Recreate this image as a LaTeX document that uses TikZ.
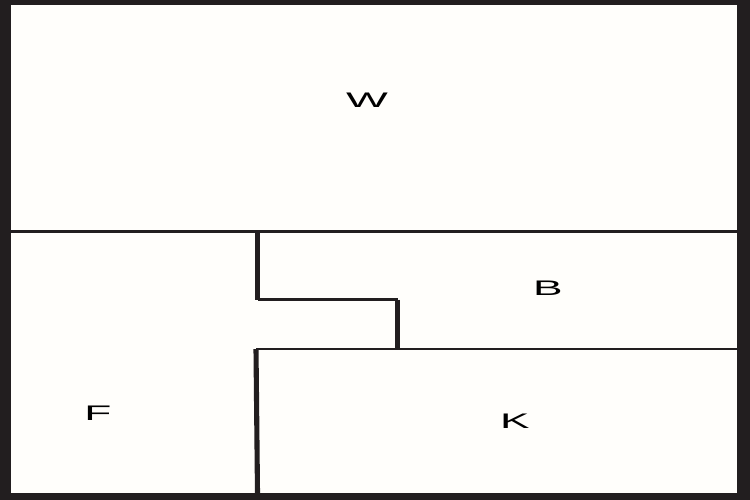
\documentclass[tikz,border=0pt]{standalone}
\usepackage{fontspec}
\setmainfont{Liberation Sans}
\definecolor{FrameBlack}{HTML}{221E1F}
\definecolor{PaperWhite}{HTML}{FFFEFB}
\tikzset{
    wall thin/.style={draw=FrameBlack, line width=1.6pt},
    wall thick/.style={draw=FrameBlack, line width=2.9pt},
    room label/.style={font=\fontsize{12}{14}\selectfont, xscale=2.1, text=black}
}

\begin{document}
\begin{tikzpicture}[x=0.2mm, y=-0.2mm]

    \useasboundingbox (0,0) rectangle (750,500);
    \fill[FrameBlack] (0,0) rectangle (750,500);

    \coordinate (TL) at (11,5);
    \coordinate (BR) at (737,493);
    \fill[PaperWhite] (TL) rectangle (BR);

    % Raumgrenzen
    \coordinate (WL) at (11,231.5);
    \coordinate (WR) at (737,231.5);
    \coordinate (N1) at (257.5,231.5);
    \coordinate (N2) at (257.5,299.5);
    \coordinate (N3) at (397.5,299.5);
    \coordinate (N4) at (397.5,349);
    \coordinate (KL) at (256,349);
    \coordinate (KR) at (737,349);
    \coordinate (KB) at (257.5,493);

    \draw[wall thin] (WL) -- (WR);
    \draw[wall thick] (N1) -- (N2);
    \draw[wall thin] (N2) -- (N3);
    \draw[wall thick] (N3) -- (N4);
    \draw[wall thin] (KL) -- (KR);
    \draw[wall thick] (KL) -- (KB);

    % Beschriftungen
    \node[room label] (W) at (367,100) {W};
    \node[room label] (B) at (548,288) {B};
    \node[room label] (F) at (98,413) {F};
    \node[room label] (K) at (515,421) {K};

\end{tikzpicture}
\end{document}
